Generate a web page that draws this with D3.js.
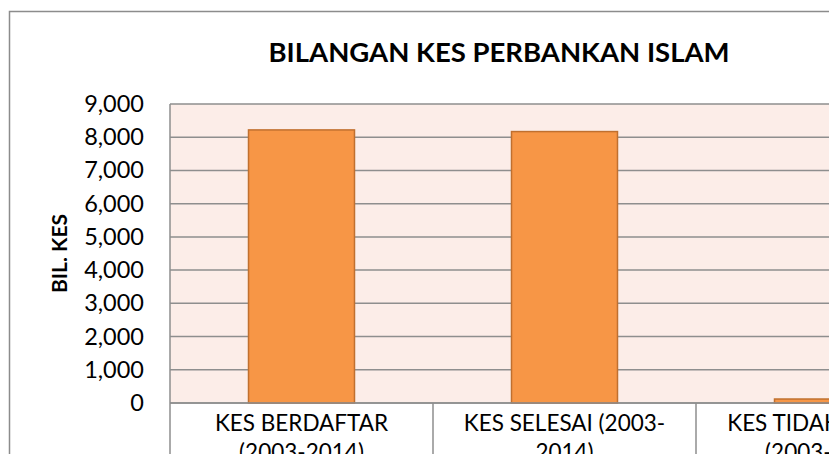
<!DOCTYPE html>
<html>
<head>
<meta charset="utf-8">
<script src="https://cdn.jsdelivr.net/npm/d3@7"></script>
<style>
  html, body { margin: 0; padding: 0; background: #fff; }
  svg { display: block; font-family: Lato, "Open Sans", sans-serif; }
</style>
</head>
<body>
<svg id="chart" width="829" height="454"></svg>
<script>
const categories = [
  ['KES BERDAFTAR', '(2003-2014)'],
  ['KES SELESAI (2003-', '2014)'],
  ['KES TIDAK SELESAI', '(2003-2014)']
]
const values = [8220, 8170, 120]
const yTicks = [0, 1000, 2000, 3000, 4000, 5000, 6000, 7000, 8000, 9000]

const svg = d3.select('#chart')
const width = 829
const height = 454

// plot area runs off the right edge, like the cropped original
const plot = { left: 170, right: 959, top: 104, bottom: 403 }

const x = d3.scaleBand()
  .domain(d3.range(categories.length))
  .range([plot.left, plot.right])
  .paddingInner(0.597)
  .paddingOuter(0.2985)

const y = d3.scaleLinear()
  .domain([0, 9000])
  .range([plot.bottom, plot.top])

// chart frame
svg.append('rect')
  .attr('x', 9.5).attr('y', 11.5)
  .attr('width', 900).attr('height', 600)
  .attr('fill', '#fff')
  .attr('stroke', '#8c8c8c')
  .attr('stroke-width', 1.5)

// plot background
svg.append('rect')
  .attr('x', plot.left).attr('y', plot.top)
  .attr('width', plot.right - plot.left).attr('height', plot.bottom - plot.top)
  .attr('fill', '#fcede8')

// gridlines
svg.append('g')
  .selectAll('line')
  .data(yTicks)
  .join('line')
  .attr('x1', plot.left).attr('x2', plot.right)
  .attr('y1', d => y(d)).attr('y2', d => y(d))
  .attr('stroke', '#8e8e8e')
  .attr('stroke-width', 1.5)

// left edge of plot
svg.append('line')
  .attr('x1', plot.left).attr('x2', plot.left)
  .attr('y1', plot.top).attr('y2', plot.bottom)
  .attr('stroke', '#8e8e8e')
  .attr('stroke-width', 1.5)

// bars
svg.append('g')
  .selectAll('rect')
  .data(values)
  .join('rect')
  .attr('x', (d, i) => x(i))
  .attr('y', d => y(d))
  .attr('width', x.bandwidth())
  .attr('height', d => y(0) - y(d))
  .attr('fill', '#f79646')
  .attr('stroke', '#c0702f')
  .attr('stroke-width', 1.5)

// y axis labels
const yAxis = d3.axisLeft(y)
  .tickValues(yTicks)
  .tickFormat(d3.format(','))
  .tickSize(0)
  .tickPadding(26)

svg.append('g')
  .attr('transform', `translate(${plot.left},0)`)
  .call(yAxis)
  .call(g => g.select('.domain').remove())
  .call(g => g.selectAll('text')
    .attr('font-family', 'Lato, sans-serif')
    .attr('font-size', 23.5)
    .attr('fill', '#000'))

// category axis with divider lines below
svg.append('line')
  .attr('x1', plot.left).attr('x2', plot.right)
  .attr('y1', plot.bottom).attr('y2', plot.bottom)
  .attr('stroke', '#8e8e8e')
  .attr('stroke-width', 1.5)

const step = x.step()
svg.append('g')
  .selectAll('line')
  .data(d3.range(categories.length + 1))
  .join('line')
  .attr('x1', i => plot.left + i * step).attr('x2', i => plot.left + i * step)
  .attr('y1', plot.bottom).attr('y2', height)
  .attr('stroke', '#8e8e8e')
  .attr('stroke-width', 1.5)

const catText = svg.append('g')
  .selectAll('text')
  .data(categories)
  .join('text')
  .attr('x', (d, i) => x(i) + x.bandwidth() / 2)
  .attr('y', 431)
  .attr('text-anchor', 'middle')
  .attr('font-size', 22.5)
  .attr('fill', '#000')

catText.selectAll('tspan')
  .data(d => d)
  .join('tspan')
  .attr('x', function() { return this.parentNode.getAttribute('x') })
  .attr('dy', (d, i) => i === 0 ? 0 : 29)
  .text(d => d)

// title
svg.append('text')
  .attr('x', 499)
  .attr('y', 62)
  .attr('text-anchor', 'middle')
  .attr('font-size', 27.5)
  .attr('font-weight', 'bold')
  .attr('fill', '#000')
  .text('BILANGAN KES PERBANKAN ISLAM')

// y axis title
svg.append('text')
  .attr('transform', 'translate(67,253.5) rotate(-90)')
  .attr('text-anchor', 'middle')
  .attr('font-size', 21)
  .attr('font-weight', 'bold')
  .attr('fill', '#000')
  .text('BIL. KES')
</script>
</body>
</html>
